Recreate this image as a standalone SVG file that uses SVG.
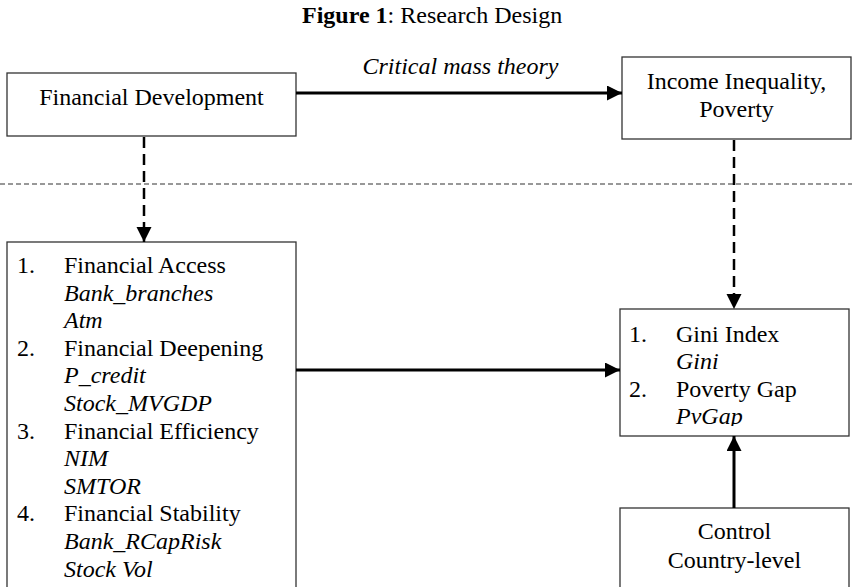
<svg xmlns="http://www.w3.org/2000/svg" width="852" height="587" viewBox="0 0 852 587">
  <style>
    text { font-family: "Liberation Serif", "Times New Roman", serif; font-size: 24px; fill: #000; }
    .it { font-style: italic; }
    .c { text-anchor: middle; }
    .box { fill: #fff; stroke: #333; stroke-width: 1.3; }
    .solid { stroke: #000; stroke-width: 3; fill: none; }
    .dash { stroke: #000; stroke-width: 2.5; stroke-dasharray: 11 6; fill: none; }
    .sep { stroke: #333; stroke-width: 1.2; stroke-dasharray: 5 3; fill: none; }
  </style>
  <defs>
    <marker id="ah" markerUnits="userSpaceOnUse" markerWidth="16" markerHeight="16" refX="15" refY="7.5" orient="auto" viewBox="0 0 16 16">
      <path d="M0,0 L15,7.5 L0,15 Z" fill="#000"/>
    </marker>
    <clipPath id="giniClip"><rect x="620" y="309" width="229" height="117"/></clipPath>
  </defs>
  <rect width="852" height="587" fill="#fff"/>

  <text x="302" y="23"><tspan font-weight="bold">Figure 1</tspan>: Research Design</text>

  <line class="sep" x1="0" y1="184" x2="852" y2="184"/>

  <g id="financial-development">
    <rect class="box" x="7" y="73" width="289" height="63"/>
    <text class="c" x="151.5" y="105">Financial Development</text>
  </g>

  <g id="income-inequality">
    <rect class="box" x="622" y="57" width="229" height="82"/>
    <text class="c" x="736.5" y="89">Income Inequality,</text>
    <text class="c" x="736.5" y="117">Poverty</text>
  </g>

  <g id="fd-indicators">
    <rect class="box" x="7" y="242" width="289" height="360"/>
    <text x="17" y="273">1.</text><text x="64" y="273">Financial Access</text>
    <text class="it" x="64" y="300.6">Bank_branches</text>
    <text class="it" x="64" y="328.2">Atm</text>
    <text x="17" y="355.8">2.</text><text x="64" y="355.8">Financial Deepening</text>
    <text class="it" x="64" y="383.4">P_credit</text>
    <text class="it" x="64" y="411">Stock_MVGDP</text>
    <text x="17" y="438.6">3.</text><text x="64" y="438.6">Financial Efficiency</text>
    <text class="it" x="64" y="466.2">NIM</text>
    <text class="it" x="64" y="493.8">SMTOR</text>
    <text x="17" y="521.4">4.</text><text x="64" y="521.4">Financial Stability</text>
    <text class="it" x="64" y="549">Bank_RCapRisk</text>
    <text class="it" x="64" y="576.6">Stock Vol</text>
  </g>

  <g id="inequality-indicators">
    <rect class="box" x="620" y="309" width="229" height="127"/>
    <g clip-path="url(#giniClip)">
      <text x="629" y="342">1.</text><text x="676" y="342">Gini Index</text>
      <text class="it" x="676" y="369">Gini</text>
      <text x="629" y="397">2.</text><text x="676" y="397">Poverty Gap</text>
      <text class="it" x="676" y="424">PvGap</text>
    </g>
  </g>

  <g id="control">
    <rect class="box" x="620" y="508" width="229" height="100"/>
    <text class="c" x="734.5" y="539">Control</text>
    <text class="c" x="734.5" y="568">Country-level</text>
  </g>

  <g id="connectors">
    <line class="solid" x1="296" y1="93" x2="622" y2="93" marker-end="url(#ah)"/>
    <text class="it c" x="460.5" y="74">Critical mass theory</text>
    <line class="dash" x1="144" y1="137" x2="144" y2="242" marker-end="url(#ah)"/>
    <line class="dash" x1="734" y1="140" x2="734" y2="309" marker-end="url(#ah)"/>
    <line class="solid" x1="296" y1="370" x2="620" y2="370" marker-end="url(#ah)"/>
    <line class="solid" x1="734" y1="508" x2="734" y2="436" marker-end="url(#ah)"/>
  </g>
</svg>
